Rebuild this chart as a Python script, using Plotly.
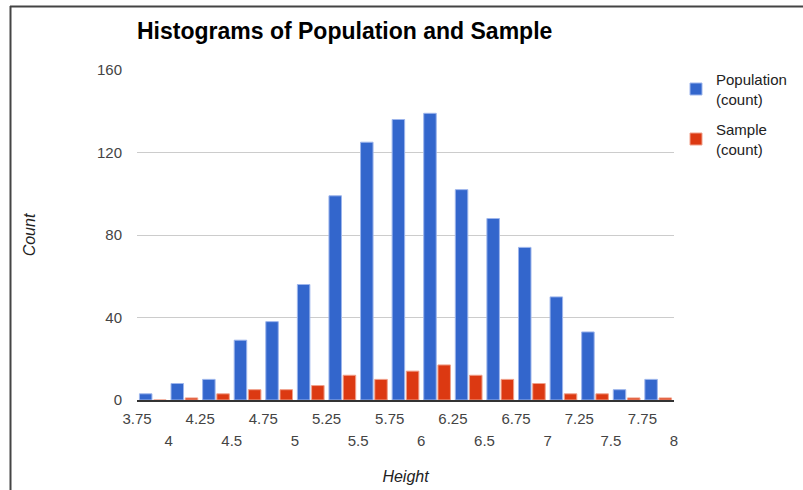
import plotly.graph_objects as go

# bins start at 3.75 and are 0.25 wide
bin_starts = [3.75, 4.0, 4.25, 4.5, 4.75, 5.0, 5.25, 5.5, 5.75, 6.0,
              6.25, 6.5, 6.75, 7.0, 7.25, 7.5, 7.75]
population = [3, 8, 10, 29, 38, 56, 99, 125, 136, 139, 102, 88, 74, 50, 33, 5, 10]
sample = [0, 1, 3, 5, 5, 7, 12, 10, 14, 17, 12, 10, 8, 3, 3, 1, 1]

ticks_row1 = [3.75, 4.25, 4.75, 5.25, 5.75, 6.25, 6.75, 7.25, 7.75]
ticks_row2 = [4, 4.5, 5, 5.5, 6, 6.5, 7, 7.5, 8]
labels_row1 = ["3.75", "4.25", "4.75", "5.25", "5.75", "6.25", "6.75", "7.25", "7.75"]
labels_row2 = ["4", "4.5", "5", "5.5", "6", "6.5", "7", "7.5", "8"]

y_ticks = [0, 40, 80, 120, 160]

FONT = "Liberation Sans, Arial, sans-serif"
bin_width = 0.25
centers = [b + bin_width / 2 for b in bin_starts]

fig = go.Figure()
fig.add_trace(go.Bar(name="Population<br>(count)", x=centers, y=population, legendgroup="pop",
                     marker=dict(color="#3366cc", line=dict(color="#9db5ec", width=1))))
fig.add_trace(go.Bar(name="Sample<br>(count)", x=centers, y=sample, legendgroup="smp",
                     marker=dict(color="#dc3912", line=dict(color="#f0a08a", width=1))))
# empty trace so the second label row axis gets drawn
fig.add_trace(go.Scatter(x=[], y=[], xaxis="x2", showlegend=False, hoverinfo="skip"))

# plot area in pixels, used for the frame lines
L, R, T, B = 137, 674, 70, 400
def px_x(p):
    return (p - L) / (R - L)
def px_y(p):
    return (B - p) / (B - T)

fig.update_layout(
    width=803, height=490,
    margin=dict(l=L, r=803 - R, t=T, b=490 - B, autoexpand=False),
    paper_bgcolor="white", plot_bgcolor="white",
    barmode="group", bargap=0.1, bargroupgap=0.12,
    font=dict(family=FONT, color="#222"),
    title=dict(text="<b>Histograms of Population and Sample</b>",
               font=dict(family=FONT, size=23, color="black"),
               x=0, xref="paper", xanchor="left",
               y=1 - 31 / 490, yref="container", yanchor="middle"),
    legend=dict(xref="container", yref="container", x=676 / 803, y=1 - 63 / 490,
                xanchor="left", yanchor="top",
                font=dict(size=15, color="#222"), itemwidth=30,
                tracegroupgap=8, bgcolor="rgba(0,0,0,0)"),
    xaxis=dict(range=[3.75, 8], tickmode="array", tickvals=ticks_row1, ticktext=labels_row1,
               showgrid=False, showline=True, linecolor="#333", linewidth=1.5,
               ticks="", ticklabelstandoff=4, automargin=False,
               tickfont=dict(size=15, color="#444"),
               title=dict(text="<i>Height</i>", font=dict(size=16, color="#222"), standoff=45)),
    xaxis2=dict(overlaying="x", matches="x", side="bottom", anchor="y",
                tickmode="array", tickvals=ticks_row2, ticktext=labels_row2,
                showgrid=False, showline=False, ticks="", ticklabelstandoff=30,
                automargin=False, tickfont=dict(size=15, color="#444")),
    yaxis=dict(range=[0, 160], tickmode="array", tickvals=y_ticks,
               showgrid=True, gridcolor="#cccccc", gridwidth=1, zeroline=False,
               ticks="", ticklabelstandoff=14, automargin=False,
               tickfont=dict(size=15, color="#444"),
               title=dict(text="<i>Count</i>", font=dict(size=16, color="#222"), standoff=57)),
    shapes=[
        dict(type="line", xref="paper", yref="paper", x0=px_x(10.5), x1=px_x(10.5),
             y0=px_y(490), y1=px_y(6), line=dict(color="#444", width=2)),
        dict(type="line", xref="paper", yref="paper", x0=px_x(10), x1=px_x(803),
             y0=px_y(6.5), y1=px_y(6.5), line=dict(color="#444", width=2)),
    ],
)

# drop the browser's default body margin so the figure sits at the page corner
fig.write_html("out.html", config={"displayModeBar": False},
               post_script="document.body.style.margin='0';")
